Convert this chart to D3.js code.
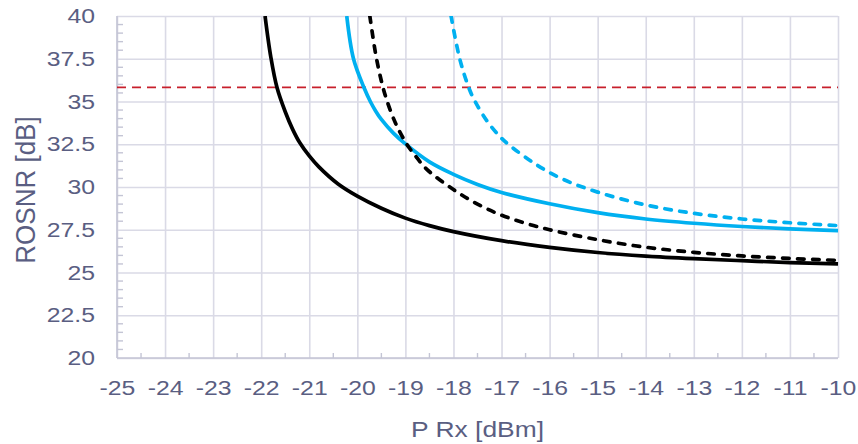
<!DOCTYPE html>
<html>
<head>
<meta charset="utf-8">
<script src="https://cdn.jsdelivr.net/npm/d3@7"></script>
<style>
  body { margin: 0; background: #fff; }
  text { font-family: "Liberation Sans", Arial, sans-serif; }
</style>
</head>
<body>
<svg width="858" height="444"></svg>
<script>
// data: [P Rx dBm, ROSNR dB]
var blackSolid = [[-21.92, 40], [-21.8, 37.6], [-21.67, 35.8], [-21.5, 34.4], [-21.35, 33.4],
    [-21.2, 32.6], [-21.0, 31.82], [-20.8, 31.18], [-20.4, 30.18], [-20, 29.47], [-19.5, 28.76],
    [-19, 28.18], [-18.5, 27.74], [-18, 27.39], [-17, 26.86], [-16, 26.47], [-15, 26.17],
    [-14, 25.96], [-13, 25.81], [-12, 25.69], [-11, 25.58], [-10, 25.5]];
var blackDashed = [[-19.74, 40], [-19.62, 37.8], [-19.5, 36.2], [-19.39, 35.1], [-19.2, 33.7],
    [-18.97, 32.5], [-18.8, 31.85], [-18.56, 31.05], [-18, 29.85], [-17.5, 29.0], [-17, 28.35],
    [-16.5, 27.88], [-16, 27.5], [-15, 26.92], [-14, 26.48], [-13, 26.18], [-12, 25.97],
    [-11, 25.82], [-10, 25.71]];
var blueSolid = [[-20.22, 40], [-20.08, 37.5], [-19.86, 35.8], [-19.73, 35], [-19.62, 34.45],
    [-19.5, 33.95], [-19.25, 33.15], [-19.0, 32.52], [-18.5, 31.47], [-18, 30.74], [-17.5, 30.15],
    [-17, 29.68], [-16, 29.02], [-15, 28.5], [-14, 28.13], [-13, 27.88], [-12, 27.69],
    [-11, 27.55], [-10, 27.45]];
var blueDashed = [[-18.05, 40], [-17.87, 37.5], [-17.68, 35.8], [-17.55, 35], [-17.3, 33.85],
    [-17.03, 32.94], [-16.86, 32.5], [-16.3, 31.35], [-15.72, 30.45], [-15, 29.7], [-14, 28.95],
    [-13, 28.46], [-12, 28.13], [-11, 27.91], [-10, 27.74]];
var limit = 35.83;

var xTicks = d3.range(-25, -9.5, 1);
var yTicks = d3.range(20, 40.1, 2.5);
var xMinor = d3.range(-24.5, -10, 1);
var yMinor = d3.range(20.5, 40, 0.5).filter(d => Math.abs(d / 2.5 - Math.round(d / 2.5)) > 0.01);

var svg = d3.select("svg"),
    margin = {top: 16, right: 20, bottom: 86, left: 117},
    width = +svg.attr("width") - margin.left - margin.right,
    height = +svg.attr("height") - margin.top - margin.bottom,
    g = svg.append("g").attr("transform", "translate(" + margin.left + "," + margin.top + ")");

var x = d3.scaleLinear().domain([-25, -10]).range([0, width]),
    y = d3.scaleLinear().domain([20, 40]).range([height, 0]);

var textColor = "#5a5e82", gridColor = "#dadae6", axisColor = "#c4c5d5";

// grid + x axis
var xAxis = g.append("g")
    .attr("transform", "translate(0," + height + ")")
    .call(d3.axisBottom(x).tickValues(xTicks).tickSize(-height).tickPadding(22)
        .tickFormat(d => String(d)));
var yAxis = g.append("g")
    .call(d3.axisLeft(y).tickValues(yTicks).tickSize(-width).tickPadding(0)
        .tickFormat(d => String(d)));

[xAxis, yAxis].forEach(function(a) {
    a.select(".domain").remove();
    a.selectAll(".tick line").attr("stroke", gridColor).attr("stroke-width", 1.6);
    a.selectAll(".tick text")
        .attr("fill", textColor)
        .style("font-size", "21px");
});
xAxis.selectAll(".tick text").attr("transform", "scale(1.18,1)");
yAxis.selectAll(".tick text").attr("x", null).attr("transform", "translate(-22,0) scale(1.18,1)");

// axis lines and minor ticks
g.append("line").attr("x1", 0).attr("x2", 0).attr("y1", 0).attr("y2", height)
    .attr("stroke", axisColor).attr("stroke-width", 1.6);
g.append("line").attr("x1", 0).attr("x2", width).attr("y1", height).attr("y2", height)
    .attr("stroke", axisColor).attr("stroke-width", 1.6);
g.selectAll(".xminor").data(xMinor).join("line")
    .attr("x1", d => x(d)).attr("x2", d => x(d))
    .attr("y1", height).attr("y2", height - 5)
    .attr("stroke", axisColor).attr("stroke-width", 1.4);
g.selectAll(".yminor").data(yMinor).join("line")
    .attr("x1", 0).attr("x2", 6)
    .attr("y1", d => y(d)).attr("y2", d => y(d))
    .attr("stroke", axisColor).attr("stroke-width", 1.4);

// clip
svg.append("defs").append("clipPath").attr("id", "plot")
    .append("rect").attr("x", 0).attr("y", 0).attr("width", width + 2).attr("height", height);

var plot = g.append("g").attr("clip-path", "url(#plot)");

// red limit line
plot.append("line")
    .attr("x1", x(-25)).attr("x2", x(-10))
    .attr("y1", y(limit)).attr("y2", y(limit))
    .attr("stroke", "#c8202c").attr("stroke-width", 1.8)
    .attr("stroke-dasharray", "9,6");

var line = d3.line()
    .x(d => x(d[0]))
    .y(d => y(d[1]))
    .curve(d3.curveCatmullRom.alpha(0.5));

var series = [
    {data: blueDashed, color: "#00b0f0", dash: "6.5,8.5"},
    {data: blueSolid, color: "#00b0f0", dash: null},
    {data: blackDashed, color: "#000000", dash: "6.5,8.5"},
    {data: blackSolid, color: "#000000", dash: null}
];

plot.selectAll(".curve")
    .data(series)
    .join("path")
    .attr("class", "curve")
    .attr("d", d => line(d.data))
    .attr("fill", "none")
    .attr("stroke", d => d.color)
    .attr("stroke-width", 3.7)
    .attr("stroke-linecap", d => d.dash ? "round" : "butt")
    .attr("stroke-dasharray", d => d.dash);

// axis titles
svg.append("text")
    .attr("transform", "translate(" + (margin.left + width / 2) + ",437) scale(1.2,1)")
    .attr("text-anchor", "middle")
    .attr("fill", textColor)
    .style("font-size", "22px")
    .text("P Rx [dBm]");

svg.append("text")
    .attr("transform", "translate(35,190) rotate(-90) scale(1,1.08)")
    .attr("text-anchor", "middle")
    .attr("fill", textColor)
    .style("font-size", "26px")
    .text("ROSNR [dB]");
</script>
</body>
</html>
